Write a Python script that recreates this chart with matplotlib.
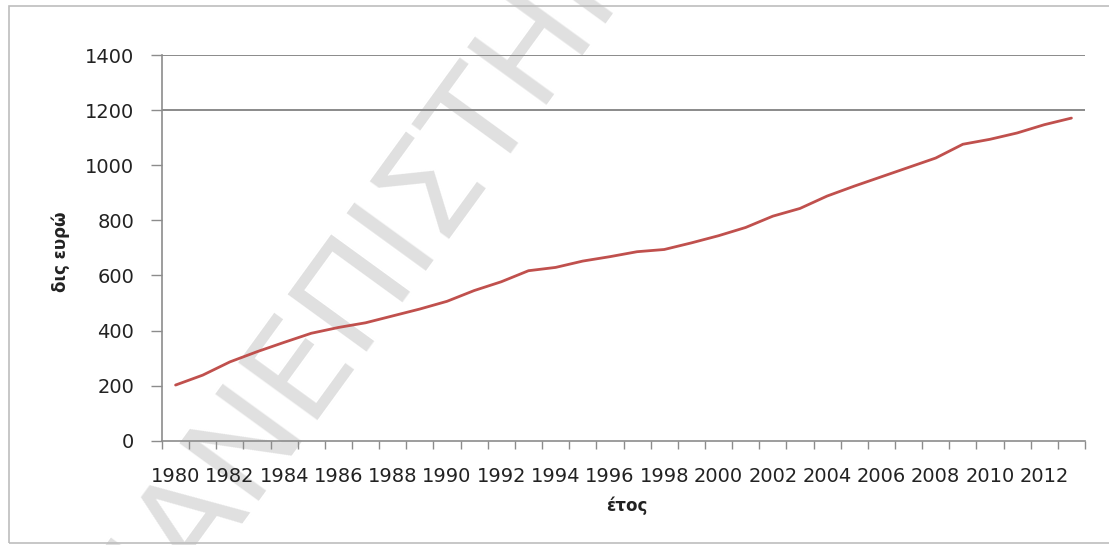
import matplotlib
matplotlib.use('Agg')
import matplotlib.pyplot as plt
from matplotlib.patches import Rectangle
import numpy as np

# chart values
years = list(range(1980, 2014))
gdp = [202, 238, 286, 323, 357, 390, 411, 428, 453, 478,
       506, 545, 577, 617, 629, 652, 668, 686, 694, 718,
       744, 774, 815, 843, 888, 924, 958, 992, 1026, 1076,
       1094, 1117, 1147, 1171]
y_ticks = [0, 200, 400, 600, 800, 1000, 1200, 1400]
grid_from = 1200
x_title = 'έτος'
y_title = 'δις ευρώ'
watermark = 'ΠΑΝΕΠΙΣΤΗΜΙΟ'

W, H = 1109, 545
fig = plt.figure(figsize=(W / 100, H / 100), dpi=100)
fig.patch.set_facecolor('white')

# chart-area border
fig.patches.append(Rectangle((9 / W, 2 / H), 1.2, 537 / H, transform=fig.transFigure,
                             fill=False, edgecolor='#bdbdbd', linewidth=1.2))

# faded watermark behind everything else
fig.text(410 / W, 1 - 212 / H, watermark, rotation=54, rotation_mode='anchor',
         ha='center', va='center', fontsize=96, color='#e0e0e0', zorder=-1)

ax = fig.add_axes([162 / W, 1 - 440.7 / H, 923 / W, 385.7 / H])
ax.patch.set_alpha(0)

x = np.arange(len(years))
ax.plot(x, gdp, color='#c0504d', linewidth=2.0, solid_capstyle='round')

ax.set_xlim(-0.5, len(years) - 0.5)
ax.set_ylim(0, 1400)

# category axis: tick marks between categories, labels every second year
ax.set_xticks(np.arange(-0.5, len(years), 1.0))
ax.set_xticklabels([])
ax.set_xticks(x[::2], minor=True)
ax.set_xticklabels([str(y) for y in years[::2]], minor=True)
ax.tick_params(axis='x', which='major', length=6, width=1, color='#8c8c8c', direction='out')
ax.tick_params(axis='x', which='minor', length=0, pad=19, labelsize=14, labelcolor='#222222')

ax.set_yticks(y_ticks)
ax.tick_params(axis='y', length=8, width=1, color='#8c8c8c', direction='out',
               pad=12, labelsize=14, labelcolor='#222222')

ax.grid(axis='y', color='#8a8a8a', linewidth=1.4)
for gl, t in zip(ax.get_ygridlines(), y_ticks):
    gl.set_visible(t >= grid_from)

for side in ['top', 'right']:
    ax.spines[side].set_visible(False)
for side in ['left', 'bottom']:
    ax.spines[side].set_color('#8c8c8c')
    ax.spines[side].set_linewidth(1.2)

fig.text(627 / W, 1 - 506 / H, x_title, ha='center', va='center',
         fontsize=12, fontweight='bold', color='#222222')
fig.text(61 / W, 1 - 252 / H, y_title, ha='center', va='center', rotation=90,
         fontsize=12, fontweight='bold', color='#222222')

fig.savefig('out.png', dpi=100)
